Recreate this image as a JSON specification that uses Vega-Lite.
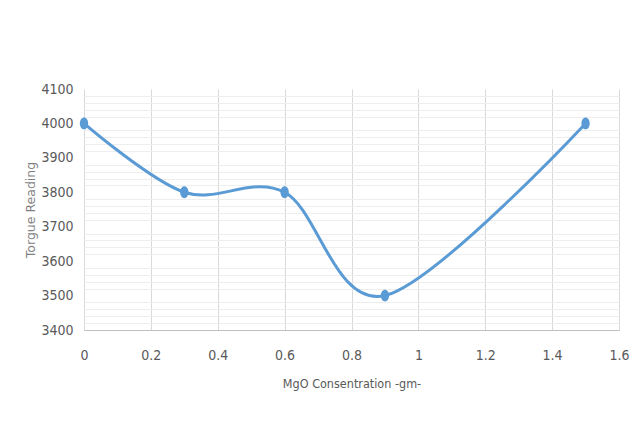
{
  "$schema": "https://vega.github.io/schema/vega-lite/v6.json",
  "width": 535,
  "height": 241,
  "autosize": {"type": "none"},
  "padding": {"left": 84, "top": 89, "right": 23, "bottom": 91},
  "background": "white",
  "config": {
    "view": {"stroke": null},
    "font": "'DejaVu Sans Condensed', 'Liberation Sans', sans-serif",
    "axis": {
      "labelColor": "#595959",
      "titleColor": "#595959",
      "labelFontSize": 14,
      "titleFontWeight": "normal",
      "ticks": false
    }
  },
  "data": {
    "values": [
      {"mgo": 0, "torque": 4000},
      {"mgo": 0.3, "torque": 3800},
      {"mgo": 0.6, "torque": 3800},
      {"mgo": 0.9, "torque": 3500},
      {"mgo": 1.5, "torque": 4000}
    ]
  },
  "layer": [
    {
      "mark": {"type": "line", "interpolate": "cardinal", "color": "#5b9bd5", "strokeWidth": 3},
      "encoding": {
        "x": {
          "field": "mgo",
          "type": "quantitative",
          "scale": {"domain": [0, 1.6], "nice": false},
          "axis": {
            "values": [0, 0.2, 0.4, 0.6, 0.8, 1, 1.2, 1.4, 1.6],
            "format": "~g",
            "labelFlush": false,
            "title": "MgO Consentration -gm-",
            "titleFontSize": 12.5,
            "titlePadding": 15,
            "labelPadding": 18,
            "domainColor": "#bfbfbf",
            "gridColor": "#d9d9d9"
          }
        },
        "y": {
          "field": "torque",
          "type": "quantitative",
          "scale": {"domain": [3400, 4100], "nice": false, "zero": false},
          "axis": {
            "orient": "right",
            "values": [3420, 3440, 3460, 3480, 3520, 3540, 3560, 3580, 3620, 3640, 3660, 3680, 3720, 3740, 3760, 3780, 3820, 3840, 3860, 3880, 3920, 3940, 3960, 3980, 4020, 4040, 4060, 4080],
            "labels": false,
            "domain": false,
            "title": null,
            "gridColor": "#eeeeee"
          }
        }
      }
    },
    {
      "mark": {
        "type": "point",
        "filled": true,
        "opacity": 1,
        "color": "#5b9bd5",
        "size": 140,
        "shape": "M -0.7 0 A 0.7 1 0 1 0 0.7 0 A 0.7 1 0 1 0 -0.7 0 Z"
      },
      "encoding": {
        "x": {"field": "mgo", "type": "quantitative"},
        "y": {
          "field": "torque",
          "type": "quantitative",
          "axis": {
            "orient": "left",
            "values": [3400, 3500, 3600, 3700, 3800, 3900, 4000, 4100],
            "format": "d",
            "title": "Torgue Reading",
            "titleFont": "'DejaVu Sans', sans-serif",
            "titleColor": "#7f7f7f",
            "titleFontSize": 12.5,
            "titlePadding": 3,
            "labelPadding": 11,
            "domain": false,
            "gridColor": "#d9d9d9"
          }
        }
      }
    }
  ],
  "resolve": {"axis": {"y": "independent"}}
}
